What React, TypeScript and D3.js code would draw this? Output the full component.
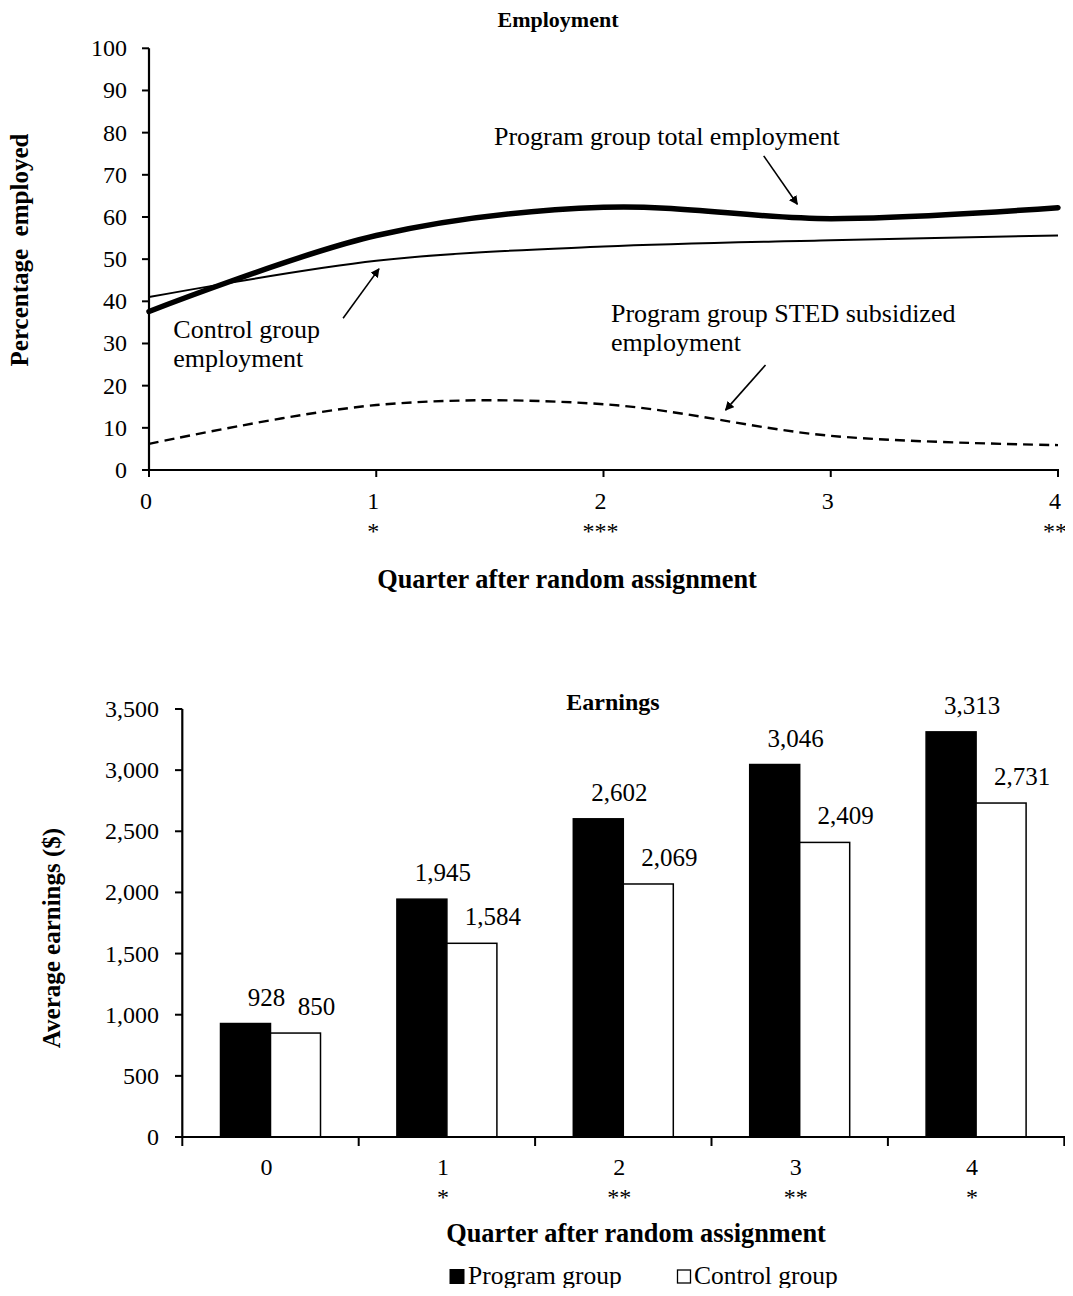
import React from "react";
import * as d3 from "d3";

// employment chart data (percent employed, by quarter)
const quarters = [0, 1, 2, 3, 4];
const programTotal = [37.6, 55.6, 62.3, 59.6, 62.2];
const controlEmp = [41, 49.6, 53, 54.5, 55.6];
const stedEmp = [6.2, 15.4, 15.6, 8.1, 5.9];
const empStars = ["", "*", "***", "", "**"];
const empTicks = [0, 10, 20, 30, 40, 50, 60, 70, 80, 90, 100];

// earnings chart data ($)
const qLabels = ["0", "1", "2", "3", "4"];
const programEarn = [928, 1945, 2602, 3046, 3313];
const controlEarn = [850, 1584, 2069, 2409, 2731];
const earnStars = ["", "*", "**", "**", "*"];
const earnTicks = [0, 500, 1000, 1500, 2000, 2500, 3000, 3500];

const FONT = "'Liberation Serif', 'Times New Roman', serif";

export default function App() {
  const W = 1073;
  const H = 1296;

  // ---- top chart scales
  const x = d3.scaleLinear().domain([0, 4]).range([149, 1058]);
  const y = d3.scaleLinear().domain([0, 100]).range([470, 48.3]);
  const line = (vals: number[]) =>
    d3
      .line<number>()
      .x((_, i) => x(quarters[i]))
      .y((d) => y(d))
      .curve(d3.curveCardinal.tension(0))(vals) || "";

  // ---- bottom chart scales
  const xb = d3.scaleBand<string>().domain(qLabels).range([182.3, 1064.3]);
  const inner = d3.scaleBand<string>().domain(["program", "control"]).range([0, 100]);
  const yb = d3.scaleLinear().domain([0, 3500]).range([1137, 709]);
  const fmt = d3.format(",");

  const arrow = (x1: number, y1: number, x2: number, y2: number) => (
    <line
      x1={x(x1)}
      y1={y(y1)}
      x2={x(x2)}
      y2={y(y2)}
      stroke="#000"
      strokeWidth={1.6}
      markerEnd="url(#arr)"
    />
  );

  return (
    <svg width={W} height={H} style={{ display: "block", margin: -8 }} fontFamily={FONT}>
      <defs>
        <marker id="arr" viewBox="0 0 10 10" refX="9" refY="5" markerWidth="9" markerHeight="9" orient="auto" markerUnits="userSpaceOnUse">
          <path d="M0,0 L10,5 L0,10 z" fill="#000" />
        </marker>
      </defs>
      <rect width={W} height={H} fill="#fff" />

      {/* ===== Employment ===== */}
      <text x={558} y={27} textAnchor="middle" fontWeight="bold" fontSize={22}>
        Employment
      </text>
      <text
        transform={`translate(28,250) rotate(-90)`}
        textAnchor="middle"
        fontWeight="bold"
        fontSize={25}
        style={{ whiteSpace: "pre" }}
      >
        {"Percentage  employed"}
      </text>
      {empTicks.map((t) => (
        <g key={t}>
          <line x1={x(0) - 7} x2={x(0)} y1={y(t)} y2={y(t)} stroke="#000" strokeWidth={2} />
          <text x={127} y={y(t) + 8} textAnchor="end" fontSize={24}>
            {t}
          </text>
        </g>
      ))}
      <line x1={x(0)} x2={x(0)} y1={y(100)} y2={y(0)} stroke="#000" strokeWidth={2.2} />
      <line x1={x(0) - 1} x2={x(4) + 1} y1={y(0)} y2={y(0)} stroke="#000" strokeWidth={2.2} />
      {quarters.map((q, i) => (
        <g key={q}>
          <line x1={x(q)} x2={x(q)} y1={y(0)} y2={y(0) + 7} stroke="#000" strokeWidth={2} />
          <text x={x(q) - 3} y={509} textAnchor="middle" fontSize={24}>
            {q}
          </text>
          <text x={x(q) - 3} y={539} textAnchor="middle" fontSize={24}>
            {empStars[i]}
          </text>
        </g>
      ))}
      <text x={567} y={588} textAnchor="middle" fontWeight="bold" fontSize={26.3}>
        Quarter after random assignment
      </text>

      <path d={line(stedEmp)} fill="none" stroke="#000" strokeWidth={2.4} strokeDasharray="10,6" />
      <path d={line(controlEmp)} fill="none" stroke="#000" strokeWidth={2} />
      <path d={line(programTotal)} fill="none" stroke="#000" strokeWidth={5.5} strokeLinecap="round" />

      <g fontSize={26}>
        <text x={x(1.518)} y={y(77.1)}>Program group total employment</text>
        <text x={x(2.033)} y={y(35.2)}>Program group STED subsidized</text>
        <text x={x(2.033)} y={y(28.2)}>employment</text>
        <text x={x(0.107)} y={y(31.4)}>Control group</text>
        <text x={x(0.107)} y={y(24.5)}>employment</text>
      </g>
      {arrow(2.705, 74.5, 2.853, 63.0)}
      {arrow(2.713, 24.9, 2.537, 14.2)}
      {arrow(0.854, 36.0, 1.012, 47.7)}

      {/* ===== Earnings ===== */}
      <text x={613} y={710} textAnchor="middle" fontWeight="bold" fontSize={24}>
        Earnings
      </text>
      <text
        transform={`translate(60,${(yb(0) + yb(3500)) / 2 + 15}) rotate(-90)`}
        textAnchor="middle"
        fontWeight="bold"
        fontSize={25}
      >
        Average earnings ($)
      </text>
      {earnTicks.map((t) => (
        <g key={t}>
          <line x1={175} x2={182.3} y1={yb(t)} y2={yb(t)} stroke="#000" strokeWidth={2} />
          <text x={159} y={yb(t) + 8} textAnchor="end" fontSize={24}>
            {fmt(t)}
          </text>
        </g>
      ))}

      {qLabels.map((q, i) => {
        const x0 = (xb(q) as number) + xb.bandwidth() / 2 - 50;
        const bars = [
          { k: "program", v: programEarn[i] },
          { k: "control", v: controlEarn[i] },
        ];
        return (
          <g key={q}>
            {bars.map((b) => (
              <g key={b.k}>
                <rect
                  x={x0 + (inner(b.k) as number)}
                  y={yb(b.v)}
                  width={inner.bandwidth()}
                  height={yb(0) - yb(b.v)}
                  fill={b.k === "program" ? "#000" : "#fff"}
                  stroke="#000"
                  strokeWidth={1.5}
                />
                <text
                  x={x0 + (inner(b.k) as number) + inner.bandwidth() / 2 + 21}
                  y={yb(b.v) - 18}
                  textAnchor="middle"
                  fontSize={25}
                >
                  {fmt(b.v)}
                </text>
              </g>
            ))}
            <text x={(xb(q) as number) + xb.bandwidth() / 2 - 4} y={1175} textAnchor="middle" fontSize={24}>
              {q}
            </text>
            <text x={(xb(q) as number) + xb.bandwidth() / 2 - 4} y={1205} textAnchor="middle" fontSize={24}>
              {earnStars[i]}
            </text>
          </g>
        );
      })}
      <line x1={182.3} x2={182.3} y1={yb(3500)} y2={yb(0)} stroke="#000" strokeWidth={2.2} />
      <line x1={175} x2={1065} y1={yb(0)} y2={yb(0)} stroke="#000" strokeWidth={2.2} />
      {[...qLabels.map((q) => xb(q) as number), 1064.3].map((t, i) => (
        <line key={i} x1={t} x2={t} y1={yb(0)} y2={yb(0) + 9} stroke="#000" strokeWidth={2} />
      ))}
      <text x={636} y={1242} textAnchor="middle" fontWeight="bold" fontSize={26.3}>
        Quarter after random assignment
      </text>

      {/* legend */}
      <rect x={449.5} y={1269} width={15} height={15} fill="#000" />
      <text x={468} y={1284} fontSize={25.5}>
        Program group
      </text>
      <rect x={677.5} y={1270} width={13} height={13} fill="#fff" stroke="#000" strokeWidth={1.3} />
      <text x={694} y={1284} fontSize={25.5}>
        Control group
      </text>
    </svg>
  );
}
